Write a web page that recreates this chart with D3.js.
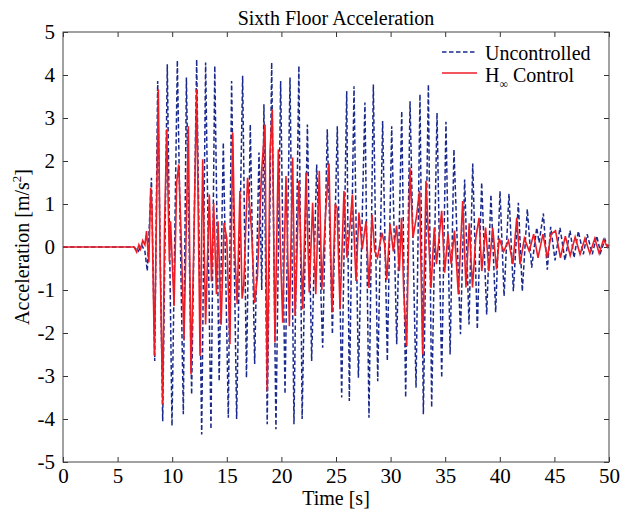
<!DOCTYPE html>
<html>
<head>
<meta charset="utf-8">
<script src="https://cdn.jsdelivr.net/npm/d3@7"></script>
<style>
	body { margin: 0; background: #fff; }
</style>
</head>
<body>
<div id="chart"></div>
<script>
// Uncontrolled response (time [s], accel [m/s^2])
const uncTime = [
	0, 6.5, 6.9, 7.2, 7.5, 7.72, 8.1, 8.4, 8.67, 9.13, 9.55, 9.98, 10.47, 11.02, 11.3, 11.78,
	12.24, 12.7, 13.06, 13.55, 13.9, 14.3, 14.68, 15.14, 15.44, 15.9, 16.45, 16.8, 17.15, 17.55,
	17.95, 18.2, 18.4, 18.7, 19.11, 19.5, 19.93, 20.33, 20.79, 21.15, 21.6, 21.9, 22.38, 22.77,
	23.23, 23.78, 24.2, 24.67, 25.12, 25.52, 25.98, 26.22, 26.65, 27.05, 27.65, 28.02, 28.42,
	28.82, 29.27, 29.7, 30.1, 30.56, 31.02, 31.38, 31.78, 32.33, 32.69, 33.0, 33.46, 33.76,
	34.25, 34.68, 35.07, 35.45, 35.8, 36.4, 36.78, 37.18, 37.52, 37.94, 38.34, 38.8, 39.19,
	39.62, 40.02, 40.39, 40.84, 41.24, 41.7, 42.06, 42.52, 42.92, 43.38, 43.6, 43.99, 44.35,
	44.66, 45.06, 45.51, 45.97, 46.43, 46.8, 47.19, 47.65, 48.0, 48.47, 48.87, 49.23, 49.63, 50
];
const uncValue = [
	0, 0, -0.1, 0.05, -0.1, -0.56, 1.61, -2.65, 3.86, -4.05, 4.25, -4.16, 4.34, -3.89, 3.94, -3.43,
	4.36, -4.36, 4.29, -4.24, 4.21, -3.12, 2.43, -3.97, 3.86, -4.0, 3.98, -3.04, 2.85, -2.72,
	2.2, -1.0, 3.32, -4.12, 4.29, -4.24, 3.86, -3.42, 3.94, -4.12, 4.21, -4.0, 2.85, -2.65,
	1.92, -2.34, 2.74, -2.03, 2.81, -3.5, 3.63, -3.58, 3.74, -3.04, 3.36, -3.97, 3.78,
	-3.12, 2.93, -2.65, 2.81, -2.26, 3.16, -3.5, 3.39, -3.27, 3.55, -3.89, 3.78, -3.73,
	3.12, -3.04, 2.91, -2.5, 2.27, -2.03, 1.57, -1.8, 1.94, -1.91, 1.5, -1.57, 1.22,
	-1.52, 1.3, -1.14, 1.24, -1.03, 1.03, -1.03, 0.88, -0.48, 0.45, 0.1, 0.78, -0.53,
	0.47, -0.31, 0.45, -0.31, 0.38, -0.25, 0.37, -0.17, 0.3, -0.17, 0.26, -0.13, 0.18, -0.09
];

// H-infinity controlled response
const ctlTime = [
	0, 6.5, 6.75, 6.95, 7.1, 7.3, 7.5, 7.65, 7.86, 8.03, 8.15, 8.37, 8.73, 8.9, 9.13, 9.3, 9.5,
	9.74, 9.85, 10.17, 10.41, 10.6, 10.8, 11.08, 11.48, 11.72, 11.95, 12.24, 12.55, 12.79, 13.06,
	13.4, 13.6, 13.8, 14.05, 14.2, 14.48, 14.75, 15.0, 15.29, 15.54, 15.75, 15.95, 16.2, 16.4,
	16.55, 16.9, 17.27, 17.55, 17.8, 18.19, 18.5, 18.7, 18.96, 19.17, 19.41, 19.72, 19.9, 20.12,
	20.42, 20.73, 21.03, 21.25, 21.35, 21.6, 21.95, 22.26, 22.55, 22.86, 23.15, 23.47, 23.7,
	24.05, 24.36, 24.63, 24.93, 25.1, 25.37, 25.73, 26.0, 26.2, 26.5, 26.83, 27.1, 27.4, 27.75,
	28.02, 28.3, 28.55, 28.8, 29.2, 29.45, 29.65, 29.95, 30.25, 30.55, 30.8, 31.0, 31.2, 31.47,
	31.77, 32.05, 32.35, 32.65, 32.94, 33.24, 33.45, 33.7, 34.0, 34.2, 34.68, 34.95, 35.25,
	35.55, 35.85, 36.2, 36.6, 36.9, 37.2, 37.5, 37.8, 38.1, 38.35, 38.7, 39.0, 39.35, 39.7,
	39.95, 40.35, 40.8, 41.2, 41.55, 41.85, 42.25, 42.7, 43.1, 43.5, 43.95, 44.35, 44.7, 45.1,
	45.55, 46.0, 46.45, 46.9, 47.35, 47.8, 48.25, 48.7, 49.1, 49.5, 49.85, 50
];
const ctlValue = [
	0, 0, -0.12, 0.05, -0.05, 0.15, 0.05, 0.37, -0.36, 1.38, 0.9, -2.53, 3.67, -0.4, -3.66, 0.5, 2.74,
	-0.34, 0.6, -1.37, 1.5, 1.92, 0.4, -2.15, 2.81, -2.96, -0.3, 3.67, -2.53, 2.04, -1.8,
	1.22, -0.8, 1.02, -1.1, 0.6, -1.81, 0.56, 0.2, -2.26, 2.66, -0.2, -1.33, 1.3, -1.2,
	-0.9, 1.61, 0.37, -1.3, -0.7, 1.78, 2.85, -3.35, 2.23, 3.2, -2.22, 2.27, 0.0, -1.76,
	1.65, -1.84, 2.08, -1.6, -0.9, 1.54, -1.45, 1.73, -1.06, 1.03, -1.1, 1.77, -1.0,
	0.8, 1.94, -1.52, 1.0, 0.9, -1.45, 1.3, -0.25, 0.25, 1.22, -0.79, 0.8, -0.05, 0.6,
	-0.95, 0.75, -0.1, -0.25, 0.33, 0.07, -0.76, 0.53, -0.1, 0.5, -0.56, 0.68, -1.02, -2.3,
	1.85, 0.22, 0.68, 1.3, -2.5, 1.54, 0.37, -0.95, 0.45, -0.4, 0.84, -0.6, 0.3,
	-0.4, 0.38, -1.1, 1.07, -0.94, 0.55, -0.94, 0.2, 0.68, -0.56, 0.45, -0.56, 0.45, -0.52,
	0.2, -0.1, 0.15, -0.4, 0.68, -0.4, 0.2, -0.1, 0.3, -0.25, 0.3, -0.25, 0.3, 0.38,
	-0.25, 0.25, -0.2, 0.23, -0.17, 0.2, -0.15, 0.2, -0.15, 0.17, 0.0, 0.05
];

const xTicks = [0, 5, 10, 15, 20, 25, 30, 35, 40, 45, 50];
const yTicks = [-5, -4, -3, -2, -1, 0, 1, 2, 3, 4, 5];

const WIDTH = 630;
const HEIGHT = 511;
const MARGIN = { top: 32, right: 21, bottom: 49, left: 63 };
const FONT = 20;
const TICK_FONT = 21;
const SERIF = "'Liberation Serif', 'Times New Roman', Times, 'DejaVu Serif', serif";

const svg = d3.select("#chart").append("svg")
	.attr("width", WIDTH)
	.attr("height", HEIGHT)
	.attr("font-family", SERIF)
	.style("font-family", SERIF);

const x = d3.scaleLinear().domain([0, 50]).range([MARGIN.left, WIDTH - MARGIN.right]);
const y = d3.scaleLinear().domain([-5, 5]).range([HEIGHT - MARGIN.bottom, MARGIN.top]);

const fmt = (d) => String(d); // plain hyphen minus, like the original

// axes: ticks pointing inwards on all four sides
const axisStyle = (g) => {
	g.attr("font-family", null).attr("font-size", null);
	g.select(".domain").remove();
	g.selectAll(".tick line").attr("stroke", "#333");
	g.selectAll(".tick text")
		.attr("fill", "#000")
		.style("font-family", SERIF)
		.style("font-size", `${TICK_FONT}px`);
};

svg.append("g")
	.attr("transform", `translate(0, ${y(-5)})`)
	.call(d3.axisBottom(x).tickValues(xTicks).tickFormat(fmt).tickSize(-5).tickSizeOuter(0).tickPadding(6))
	.call(axisStyle);

svg.append("g")
	.attr("transform", `translate(0, ${y(5)})`)
	.call(d3.axisTop(x).tickValues(xTicks).tickFormat("").tickSize(-5).tickSizeOuter(0))
	.call(axisStyle);

svg.append("g")
	.attr("transform", `translate(${x(0)}, 0)`)
	.call(d3.axisLeft(y).tickValues(yTicks).tickFormat(fmt).tickSize(-5).tickSizeOuter(0).tickPadding(8))
	.call(axisStyle);

svg.append("g")
	.attr("transform", `translate(${x(50)}, 0)`)
	.call(d3.axisRight(y).tickValues(yTicks).tickFormat("").tickSize(-5).tickSizeOuter(0))
	.call(axisStyle);

// curves
const line = d3.line()
	.x((d) => x(d[0]))
	.y((d) => y(d[1]));

svg.append("path")
	.datum(d3.zip(uncTime, uncValue))
	.attr("d", line)
	.attr("fill", "none")
	.attr("stroke", "#1a2a8c")
	.attr("stroke-width", 1.5)
	.attr("stroke-dasharray", "4.5,2.5");

svg.append("path")
	.datum(d3.zip(ctlTime, ctlValue))
	.attr("d", line)
	.attr("fill", "none")
	.attr("stroke", "#ee1c25")
	.attr("stroke-width", 1.6);

// frame
svg.append("rect")
	.attr("x", x(0))
	.attr("y", y(5))
	.attr("width", x(50) - x(0))
	.attr("height", y(-5) - y(5))
	.attr("fill", "none")
	.attr("stroke", "#444")
	.attr("stroke-width", 1);

// title and axis labels
const label = (sel) => sel
	.style("font-family", SERIF)
	.style("font-size", `${FONT}px`)
	.attr("fill", "#000");

svg.append("text")
	.attr("x", (x(0) + x(50)) / 2)
	.attr("y", 25)
	.attr("text-anchor", "middle")
	.call(label)
	.text("Sixth Floor Acceleration");

svg.append("text")
	.attr("x", (x(0) + x(50)) / 2)
	.attr("y", 505)
	.attr("text-anchor", "middle")
	.call(label)
	.text("Time [s]");

const yLabel = svg.append("text")
	.attr("transform", `translate(29, ${y(0)}) rotate(-90)`)
	.attr("text-anchor", "middle")
	.call(label);
yLabel.append("tspan").text("Acceleration [m/s");
yLabel.append("tspan").attr("dy", -8).style("font-size", "13px").text("2");
yLabel.append("tspan").attr("dy", 8).text("]");

// legend, no box
const legend = svg.append("g");
legend.append("line")
	.attr("x1", 442).attr("x2", 477)
	.attr("y1", 52).attr("y2", 52)
	.attr("stroke", "#1a2a8c")
	.attr("stroke-width", 1.5)
	.attr("stroke-dasharray", "4.5,2.5");
legend.append("text")
	.attr("x", 485).attr("y", 60)
	.call(label)
	.text("Uncontrolled");

legend.append("line")
	.attr("x1", 442).attr("x2", 477)
	.attr("y1", 73).attr("y2", 73)
	.attr("stroke", "#ee1c25")
	.attr("stroke-width", 1.6);
const hText = legend.append("text")
	.attr("x", 485).attr("y", 82)
	.call(label);
hText.append("tspan").text("H");
hText.append("tspan").attr("dy", 6).style("font-size", "12px").text("\u221E");
hText.append("tspan").attr("dy", -6).text(" Control");
</script>
</body>
</html>
